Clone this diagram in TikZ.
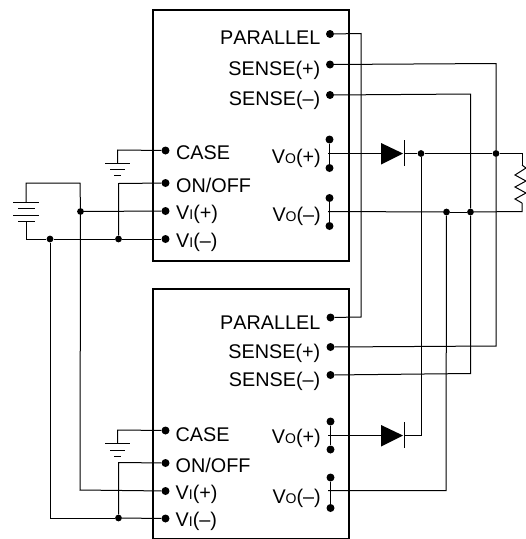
\documentclass[tikz,border=0pt]{standalone}
\usepackage{fontspec}
\setmainfont[Kerning=Off]{Liberation Sans}
\tikzset{
  x=1pt,y=-1pt,
  wire/.style={line width=1pt,line join=miter},
  modbox/.style={draw,line width=1.9pt,rectangle,minimum width=196pt,inner sep=0pt,anchor=north west},
  pin/.style={circle,fill=black,inner sep=0pt,minimum size=8pt},
  junc/.style={circle,fill=black,inner sep=0pt,minimum size=6.8pt},
  lblr/.style={anchor=base east,inner sep=0pt,font=\fontsize{19.8pt}{22pt}\selectfont},
  lbll/.style={anchor=base west,inner sep=0pt,font=\fontsize{19.8pt}{22pt}\selectfont},
  plate/.style={line width=1pt},
  vbar/.style={line width=1.5pt},
}
\newcommand{\subsm}[1]{{\fontsize{14pt}{15pt}\selectfont #1}}
\begin{document}
\begin{tikzpicture}
\useasboundingbox (0,0) rectangle (526,539);
% module boxes
\node[modbox,minimum height=251pt] (boxA) at (152,9) {};
\node[modbox,minimum height=250pt] (boxB) at (152,288) {};
% labels top
\node[lblr] (tPar) at (320.5,44) {PARALLEL};
\node[lblr] (tSp) at (320.5,75) {SENSE(+)};
\node[lblr] (tSm) at (320.5,105) {SENSE(--)};
\node[lblr] (tVp) at (321,163.3) {V\subsm{O}(+)};
\node[lblr] (tVm) at (321,221.7) {V\subsm{O}(--)};
\node[lbll] (tCase) at (176,159.3) {CASE};
\node[lbll] (tOn) at (176,192.3) {ON/OFF};
\node[lbll] (tIp) at (176,219.5) {V\subsm{I}(+)};
\node[lbll] (tIm) at (176,247.3) {V\subsm{I}(--)};
% labels bottom
\node[lblr] (bPar) at (320.5,329) {PARALLEL};
\node[lblr] (bSp) at (320.5,358) {SENSE(+)};
\node[lblr] (bSm) at (320.5,386.5) {SENSE(--)};
\node[lblr] (bVp) at (321,443) {V\subsm{O}(+)};
\node[lblr] (bVm) at (321,503) {V\subsm{O}(--)};
\node[lbll] (bCase) at (175.5,441.7) {CASE};
\node[lbll] (bOn) at (175.5,472.3) {ON/OFF};
\node[lbll] (bIp) at (175.5,499.3) {V\subsm{I}(+)};
\node[lbll] (bIm) at (175.5,526.7) {V\subsm{I}(--)};
% pins top
\node[pin] (aPar) at (330,34) {};
\node[pin] (aSp) at (330,64.5) {};
\node[pin] (aSm) at (330,95) {};
\node[pin] (aVp1) at (329.5,139.5) {};
\node[pin] (aVp2) at (329.5,168) {};
\node[pin] (aVm1) at (329.5,198) {};
\node[pin] (aVm2) at (329.5,226) {};
\node[pin] (aCase) at (165.5,150.5) {};
\node[pin] (aOn) at (165.5,183) {};
\node[pin] (aIp) at (165.5,211) {};
\node[pin] (aIm) at (165.5,239) {};
% pins bottom
\node[pin] (bP) at (330.5,317.5) {};
\node[pin] (bS1) at (330.5,347) {};
\node[pin] (bS2) at (330.5,375) {};
\node[pin] (bVp1) at (330.5,421.5) {};
\node[pin] (bVp2) at (330.5,449.5) {};
\node[pin] (bVm1) at (330.5,477.5) {};
\node[pin] (bVm2) at (330.5,508) {};
\node[pin] (bC) at (165.5,430.5) {};
\node[pin] (bO) at (165.5,463) {};
\node[pin] (bI1) at (165.5,491) {};
\node[pin] (bI2) at (165.5,518.5) {};
% junctions
\node[junc] (jD) at (421,153.5) {};
\node[junc] (jR) at (496,153.5) {};
\node[junc] (jN1) at (446.5,212) {};
\node[junc] (jN2) at (470.5,212) {};
\node[junc] (jIp) at (80.5,211.5) {};
\node[junc] (jIm1) at (50,239) {};
\node[junc] (jIm2) at (118.5,239) {};
\node[junc] (jB) at (118.5,518) {};
% helper coordinates
\coordinate (aVpB) at (328,153.5);
\coordinate (aVmB) at (328,211.5);
\coordinate (bVpB) at (328,435);
\coordinate (bVmB) at (328,490.5);
\coordinate (d1A) at (381,153.5);
\coordinate (d1C) at (404,153.5);
\coordinate (d2A) at (381,435);
\coordinate (d2C) at (404,435);
\coordinate (rT) at (522,165);
\coordinate (rB) at (522,203);
\coordinate (gA) at (117.5,163);
\coordinate (gB) at (117.5,443);
\coordinate (batT) at (26,202);
\coordinate (batB) at (26,221);
% Vo bars
\draw[vbar] (aVp1) -- (aVp2);
\draw[vbar] (aVm1) -- (aVm2);
\draw[vbar] (bVp1) -- (bVp2);
\draw[vbar] (bVm1) -- (bVm2);
% wires
\draw[wire] (aPar) -- (361,33.5) -- (361,317) -- (bP);
\draw[wire] (aSp) -- (496,63.5) -- (jR);
\draw[wire] (jR) -- (496,346) -- (bS1);
\draw[wire] (aSm) -- (470.5,94) -- (jN2);
\draw[wire] (jN2) -- (470.5,373.5) -- (bS2);
\draw[wire] (aVpB) -- (d1A);
\draw[wire] (d1C) -- (jD);
\draw[wire] (jD) -- (jR);
\draw[wire] (jD) -- (421,435) -- (d2C);
\draw[wire] (bVpB) -- (d2A);
\draw[wire] (aVmB) -- (jN1);
\draw[wire] (jN1) -- (jN2);
\draw[wire] (jN1) -- (446,490.5) -- (bVmB);
\draw[wire] (jR) -- (522,153.5) -- (rT);
\draw[wire] (jN2) -- (522,211.5) -- (rB);
\draw[wire] (rT) -- (526,168) -- (515,175) -- (526,181) -- (515,187) -- (526,193) -- (515,199) -- (rB);
\draw[wire] (aCase) -- (117.5,150) -- (gA);
\draw[wire] (bC) -- (117.5,430) -- (gB);
\draw[wire] (aOn) -- (118.5,183.5) -- (jIm2);
\draw[wire] (bO) -- (118.5,462.5) -- (jB);
\draw[wire] (batT) -- (26,183) -- (80,183) -- (jIp);
\draw[wire] (jIp) -- (aIp);
\draw[wire] (jIp) -- (80,490) -- (bI1);
\draw[wire] (batB) -- (26,239) -- (jIm1);
\draw[wire] (jIm1) -- (jIm2);
\draw[wire] (jIm2) -- (aIm);
\draw[wire] (jIm1) -- (50,518) -- (jB);
\draw[wire] (jB) -- (bI2);
% diodes
\fill (381,143) -- (381,164.5) -- (403,153.5) -- cycle;
\fill (381,425) -- (381,446.5) -- (403,435.5) -- cycle;
\draw[wire] (404,140) -- (404,166);
\draw[wire] (404,422) -- (404,448);
% grounds
\draw[plate] (105,163) -- (130,163) (110,169) -- (125,169) (114,175) -- (121,175);
\draw[plate] (105,443) -- (130,443) (110,450) -- (125,450) (114,456) -- (121,456);
% battery
\draw[plate] (13,202) -- (39,202) (18,208.5) -- (35,208.5) (13,215) -- (39,215) (18,221) -- (35,221);
\end{tikzpicture}
\end{document}
